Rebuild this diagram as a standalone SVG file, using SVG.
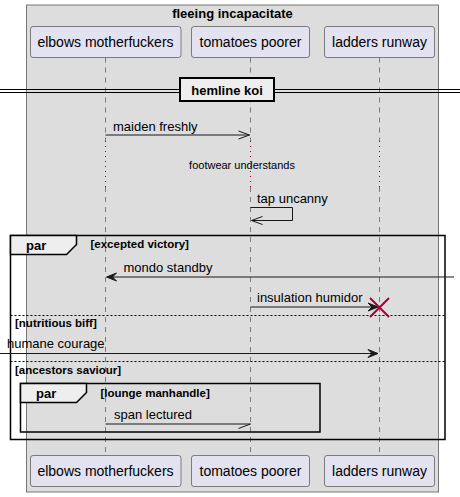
<svg xmlns="http://www.w3.org/2000/svg" width="460" height="497" viewBox="0 0 460 497">
<defs>
<style>
text{font-family:"Liberation Sans",Arial,sans-serif;fill:#000}
.pt{font-size:14px}
.msg{font-size:13px}
.b13{font-size:13px;font-weight:bold}
.g{font-size:11.5px;font-weight:bold}
.d{font-size:11px}
.part{fill:#E2E2F0;stroke:#181818;stroke-width:0.5}
.life{stroke:#181818;stroke-width:0.5;stroke-dasharray:5,5;fill:none}
.delay{stroke:#A80036;stroke-width:1;stroke-dasharray:1,4;fill:none}
.ln{stroke:#181818;stroke-width:1;fill:none}
.frame{fill:none;stroke:#000;stroke-width:1.5}
.tab{fill:#EEEEEE;stroke:#000;stroke-width:1.5}
.sep{stroke:#000;stroke-width:1;stroke-dasharray:2,2}
.head{fill:#181818;stroke:#181818;stroke-width:1}
</style>
</defs>
<rect width="460" height="497" fill="#FFFFFF"/>
<g id="box-fleeing-incapacitate">
<rect x="26.5" y="5" width="412" height="487" fill="#DDDDDD" stroke="#777777" stroke-width="1"/>
<text class="b13" x="232.5" y="18" text-anchor="middle">fleeing incapacitate</text>
</g>
<g id="lifelines">
<path class="life" d="M105.5,57.5 V141 M105.5,187 V455.5 M250.5,57.5 V141 M250.5,187 V455.5 M379.5,57.5 V141 M379.5,187 V455.5"/>
<path class="delay" d="M105.5,141 V187 M250.5,141 V187 M379.5,141 V187"/>
</g>
<g id="p-elbows-motherfuckers">
<rect class="part" x="30.5" y="26.5" width="150.5" height="31" rx="2.5"/>
<text class="pt" x="105.5" y="47" text-anchor="middle">elbows motherfuckers</text>
<rect class="part" x="30.5" y="455.5" width="150.5" height="31" rx="2.5"/>
<text class="pt" x="105.5" y="476" text-anchor="middle">elbows motherfuckers</text>
</g>
<g id="p-tomatoes-poorer">
<rect class="part" x="191.5" y="26.5" width="118" height="31" rx="2.5"/>
<text class="pt" x="250.5" y="47" text-anchor="middle">tomatoes poorer</text>
<rect class="part" x="191.5" y="455.5" width="118" height="31" rx="2.5"/>
<text class="pt" x="250.5" y="476" text-anchor="middle">tomatoes poorer</text>
</g>
<g id="p-ladders-runway">
<rect class="part" x="324.5" y="26.5" width="110" height="31" rx="2.5"/>
<text class="pt" x="379.5" y="47" text-anchor="middle">ladders runway</text>
<rect class="part" x="324.5" y="455.5" width="110" height="31" rx="2.5"/>
<text class="pt" x="379.5" y="476" text-anchor="middle">ladders runway</text>
</g>
<g id="divider-hemline-koi">
<line x1="0" y1="89.5" x2="460" y2="89.5" stroke="#000" stroke-width="1"/>
<line x1="0" y1="92.5" x2="460" y2="92.5" stroke="#000" stroke-width="1"/>
<rect x="180" y="78" width="94" height="23" fill="#EEEEEE" stroke="#000" stroke-width="2"/>
<text class="b13" x="227" y="94.5" text-anchor="middle">hemline koi</text>
</g>
<g id="delay-footwear">
<text class="d" x="242" y="169" text-anchor="middle">footwear understands</text>
</g>
<g id="frame-par-outer">
<rect class="frame" x="10.5" y="235.5" width="434.5" height="204"/>
<path class="tab" d="M10.5,235.5 H76.5 V244.5 L66.5,254.5 H10.5 Z"/>
<text class="b13" x="26" y="250">par</text>
<text class="g" x="90.5" y="248">[excepted victory]</text>
<line class="sep" x1="10.5" y1="315.5" x2="445" y2="315.5"/>
<text class="g" x="15" y="327">[nutritious biff]</text>
<line class="sep" x1="10.5" y1="361.5" x2="445" y2="361.5"/>
<text class="g" x="15" y="373.5">[ancestors saviour]</text>
</g>
<g id="frame-par-inner">
<rect class="frame" x="20.5" y="383.5" width="299.5" height="48.5"/>
<path class="tab" d="M20.5,383.5 H86.5 V392.5 L76.5,402.5 H20.5 Z"/>
<text class="b13" x="36" y="398">par</text>
<text class="g" x="100.5" y="397">[lounge manhandle]</text>
</g>
<g id="connectors">
<g id="m-maiden-freshly">
<line class="ln" x1="105.5" y1="135" x2="249.5" y2="135"/>
<path class="ln" d="M238.5,131 L249.5,135 L238.5,139"/>
<text class="msg" x="113" y="130.5">maiden freshly</text>
</g>
<g id="m-tap-uncanny">
<path class="ln" d="M250.5,207.5 H292.5 V220.5 H251.5"/>
<path class="ln" d="M262.5,216.5 L251.5,220.5 L262.5,224.5"/>
<text class="msg" x="257" y="203">tap uncanny</text>
</g>
<g id="m-mondo-standby">
<line class="ln" x1="454" y1="277" x2="108" y2="277"/>
<polygon class="head" points="106.5,277 116.5,273 112.5,277 116.5,281"/>
<text class="msg" x="123.5" y="272">mondo standby</text>
</g>
<g id="m-insulation-humidor">
<line class="ln" x1="250.5" y1="307" x2="376" y2="307"/>
<polygon class="head" points="378,307 368,303 372,307 368,311"/>
<text class="msg" x="257" y="302">insulation humidor</text>
<path d="M370,298 L389,317 M389,298 L370,317" stroke="#A80036" stroke-width="2" fill="none"/>
</g>
<g id="m-humane-courage">
<line class="ln" x1="0" y1="353.5" x2="376" y2="353.5"/>
<polygon class="head" points="378,353.5 368,349.5 372,353.5 368,357.5"/>
<text class="msg" x="7" y="348">humane courage</text>
</g>
<g id="m-span-lectured">
<line class="ln" x1="105.5" y1="424" x2="250.5" y2="424"/>
<line class="ln" x1="250.5" y1="424" x2="238.5" y2="428.5"/>
<text class="msg" x="114" y="418.5">span lectured</text>
</g>
</g>
</svg>
